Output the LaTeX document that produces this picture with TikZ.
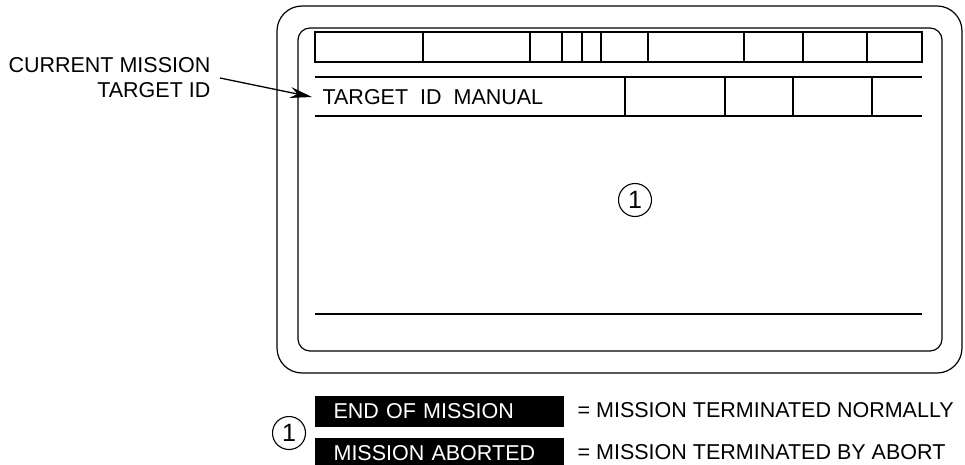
\documentclass[tikz,border=0pt]{standalone}
\usepackage{fontspec}
\setmainfont{Liberation Sans}
\usetikzlibrary{arrows.meta}
\begin{document}
\begin{tikzpicture}[x=1pt,y=-1pt,line width=1.2pt,
  every node/.style={font=\fontsize{21.5}{25}\selectfont},
  legbox/.style={fill=black,text=white,anchor=north west,minimum height=31pt,
    text width=211pt,inner xsep=19pt,inner ysep=0pt,align=left},
  legtext/.style={anchor=west,inner sep=0pt},
  refnum/.style={draw,circle,minimum size=33pt,inner sep=0pt,line width=1.1pt,
    font=\fontsize{25}{27}\selectfont}]
  \useasboundingbox (0,0) rectangle (965,465);
  % screen frame
  \draw[rounded corners=25pt] (277,6) rectangle (962,373);
  \draw[rounded corners=12pt] (298,28) rectangle (942,351);
  % top row of fields
  \draw (315,32) rectangle (922,62);
  \foreach \x in {423,530,562,582,601,648,744,803,867}
    \draw (\x,32) -- (\x,62);
  % target id row
  \draw (315,77) -- (922,77) (315,116) -- (922,116);
  \foreach \x in {625,725,793,872}
    \draw (\x,77) -- (\x,116);
  \draw (315,314) -- (922,314);
  \node[anchor=west,inner xsep=10pt,inner ysep=0pt] (tid) at (312,97) {TARGET~ ID~ MANUAL};
  \node[refnum] (mainref) at (635,200) {1};
  % callout
  \node[align=right,anchor=east,inner xsep=9pt,inner ysep=0pt] (cur) at (220,78)
    {CURRENT MISSION\\TARGET ID};
  \draw[-{Stealth[length=22pt,width=11pt]},line width=1.3pt] (cur.east) -- (tid.west);
  % legend
  \node[refnum] (legref) at (289,433) {1};
  \node[legbox] (eom) at (314,395) {END OF MISSION};
  \node[legbox] (abt) at (314,437) {MISSION ABORTED};
  \node[legtext] (eomtxt) at (577,410.5) {= MISSION TERMINATED NORMALLY};
  \node[legtext] (abttxt) at (577,452.5) {= MISSION TERMINATED BY ABORT};
\end{tikzpicture}
\end{document}
